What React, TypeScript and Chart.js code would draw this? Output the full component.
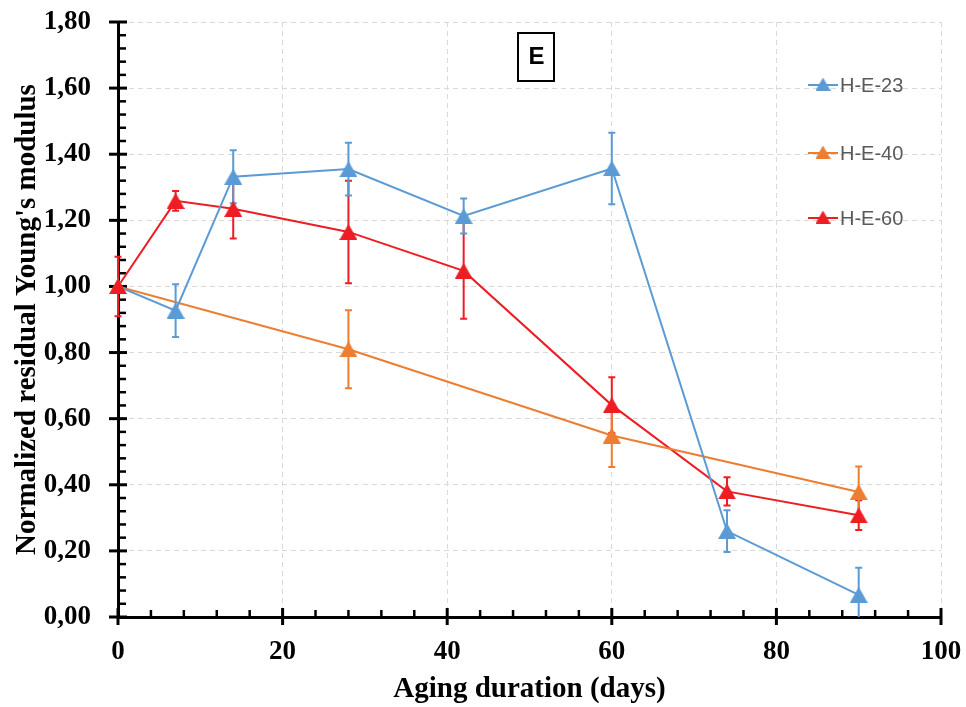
import React, { useEffect, useRef } from "react";
import { Chart, registerables } from "chart.js";

Chart.register(...registerables);

// ---- data ----
const seriesLabels = ["H-E-23", "H-E-40", "H-E-60"];
const seriesColors = ["#5B9BD5", "#ED7D31", "#EE1D23"];

const days23 = [0, 7, 14, 28, 42, 60, 74, 90];
const values23 = [1.0, 0.927, 1.332, 1.355, 1.213, 1.357, 0.26, 0.067];
const errors23 = [0, 0.08, 0.08, 0.08, 0.053, 0.108, 0.063, 0.082];

const days40 = [0, 28, 60, 90];
const values40 = [1.0, 0.81, 0.549, 0.378];
const errors40 = [0, 0.118, 0.095, 0.077];

const days60 = [0, 7, 14, 28, 42, 60, 74, 90];
const values60 = [1.0, 1.259, 1.235, 1.165, 1.047, 0.641, 0.38, 0.308];
const errors60 = [0.09, 0.03, 0.09, 0.155, 0.145, 0.084, 0.043, 0.045];

const xTitle = "Aging duration (days)";
const yTitle = "Normalized residual Young's modulus";
const panelLabel = "E";

const xMin = 0;
const xMax = 100;
const xStep = 20;
const yMin = 0;
const yMax = 1.8;
const yStep = 0.2;

const allDays = [days23, days40, days60];
const allValues = [values23, values40, values60];
const allErrors = [errors23, errors40, errors60];

function triangleImage(color: string, w: number, h: number) {
  const c = document.createElement("canvas");
  c.width = w;
  c.height = h;
  const ctx = c.getContext("2d")!;
  ctx.fillStyle = color;
  ctx.beginPath();
  ctx.moveTo(w / 2, 0);
  ctx.lineTo(w, h);
  ctx.lineTo(0, h);
  ctx.closePath();
  ctx.fill();
  return c;
}

function points(i: number) {
  return allDays[i].map((d, k) => ({ x: d, y: allValues[i][k] }));
}

export default function App() {
  const ref = useRef<HTMLCanvasElement>(null);

  useEffect(() => {
    document.body.style.margin = "0";
    const canvas = ref.current;
    if (!canvas) return;

    const markerImgs = seriesColors.map((c) => triangleImage(c, 18, 16));
    const legendImgs = seriesColors.map((c) => triangleImage(c, 15, 13));

    // marker datasets: index 0 = red, 1 = orange, 2 = blue (blue drawn first, red last)
    const markerOrder = [2, 1, 0];
    const markerDatasets = markerOrder.map((s) => ({
      label: seriesLabels[s] + " markers",
      data: points(s),
      showLine: false,
      borderColor: seriesColors[s],
      backgroundColor: seriesColors[s],
      pointStyle: markerImgs[s],
      pointRadius: 9,
      clip: false,
      order: 0,
      errorBarsBefore: s === 0,
    }));
    const lineDatasets = [0, 1, 2].map((s) => ({
      label: seriesLabels[s],
      data: points(s),
      showLine: true,
      borderColor: seriesColors[s],
      backgroundColor: seriesColors[s],
      borderWidth: 2,
      pointRadius: 0,
      tension: 0,
      order: 1,
    }));

    const errorBarPlugin = {
      id: "errorBars",
      beforeDatasetDraw(chart: any, args: any) {
        const ds = chart.data.datasets[args.index];
        if (!ds.errorBarsBefore) return;
        const ctx = chart.ctx;
        const xs = chart.scales.x;
        const ys = chart.scales.y;
        ctx.save();
        ctx.lineWidth = 2;
        for (const s of [2, 1, 0]) {
          ctx.strokeStyle = seriesColors[s];
          allDays[s].forEach((d, k) => {
            const e = allErrors[s][k];
            if (!e) return;
            const v = allValues[s][k];
            const px = xs.getPixelForValue(d);
            const hi = Math.min(v + e, yMax);
            const lo = Math.max(v - e, yMin);
            const pyHi = ys.getPixelForValue(hi);
            const pyLo = ys.getPixelForValue(lo);
            ctx.beginPath();
            ctx.moveTo(px, pyHi);
            ctx.lineTo(px, pyLo);
            if (v + e <= yMax) {
              ctx.moveTo(px - 3.5, pyHi);
              ctx.lineTo(px + 3.5, pyHi);
            }
            if (v - e >= yMin) {
              ctx.moveTo(px - 3.5, pyLo);
              ctx.lineTo(px + 3.5, pyLo);
            }
            ctx.stroke();
          });
        }
        ctx.restore();
      },
    };

    const axisTicksPlugin = {
      id: "axisTicks",
      beforeDatasetsDraw(chart: any) {
        const ctx = chart.ctx;
        const xs = chart.scales.x;
        const ys = chart.scales.y;
        const area = chart.chartArea;
        ctx.save();
        ctx.strokeStyle = "#000";
        ctx.lineCap = "butt";
        const yMinorCount = 5;
        const yN = Math.round((yMax - yMin) / yStep) * yMinorCount;
        for (let i = 0; i <= yN; i++) {
          const v = yMin + (i * yStep) / yMinorCount;
          const py = ys.getPixelForValue(v);
          ctx.beginPath();
          if (i % yMinorCount === 0) {
            ctx.lineWidth = 3;
            ctx.moveTo(area.left - 9, py);
            ctx.lineTo(area.left + 9, py);
          } else {
            ctx.lineWidth = 2.5;
            ctx.moveTo(area.left, py);
            ctx.lineTo(area.left + 8, py);
          }
          ctx.stroke();
        }
        const xMinorCount = 5;
        const xN = Math.round((xMax - xMin) / xStep) * xMinorCount;
        for (let i = 0; i <= xN; i++) {
          const v = xMin + (i * xStep) / xMinorCount;
          const px = xs.getPixelForValue(v);
          ctx.beginPath();
          if (i % xMinorCount === 0) {
            ctx.lineWidth = 3;
            ctx.moveTo(px, area.bottom - 9);
            ctx.lineTo(px, area.bottom + 8);
          } else {
            ctx.lineWidth = 2.5;
            ctx.moveTo(px, area.bottom - 7);
            ctx.lineTo(px, area.bottom);
          }
          ctx.stroke();
        }
        ctx.restore();
      },
    };

    const legendPlugin = {
      id: "customLegend",
      afterDraw(chart: any) {
        const ctx = chart.ctx;
        ctx.save();
        const ys = [85, 153, 218];
        seriesLabels.forEach((label, s) => {
          const y = ys[s];
          ctx.strokeStyle = seriesColors[s];
          ctx.lineWidth = 2;
          ctx.beginPath();
          ctx.moveTo(808, y);
          ctx.lineTo(838, y);
          ctx.stroke();
          const img = legendImgs[s];
          ctx.drawImage(img, 823 - img.width / 2, y - img.height / 2 - 1);
          ctx.fillStyle = "#595959";
          ctx.font = "20px 'Liberation Sans', Arial, sans-serif";
          ctx.textAlign = "left";
          ctx.textBaseline = "middle";
          ctx.fillText(label, 840, y + 1);
        });
        ctx.fillStyle = "#fff";
        ctx.fillRect(518, 32, 37, 50);
        ctx.strokeStyle = "#000";
        ctx.lineWidth = 2;
        ctx.strokeRect(518, 33, 36, 48);
        ctx.fillStyle = "#000";
        ctx.font = "bold 24px 'Liberation Sans', Arial, sans-serif";
        ctx.textAlign = "center";
        ctx.textBaseline = "middle";
        ctx.fillText(panelLabel, 536.5, 57);
        ctx.restore();
      },
    };

    const gridColor = "#D9D9D9";
    const tickFont = { family: "'Liberation Serif', 'Times New Roman', serif", size: 27, weight: "bold" as const };
    const titleFont = { family: "'Liberation Serif', 'Times New Roman', serif", size: 29, weight: "bold" as const };

    const chart = new Chart(canvas, {
      type: "line",
      data: { datasets: [...markerDatasets, ...lineDatasets] as any },
      options: {
        animation: false,
        responsive: false,
        devicePixelRatio: 1,
        layout: { padding: { left: 0, right: 25, top: 22, bottom: 0 } },
        plugins: {
          legend: { display: false },
          tooltip: { enabled: false },
        },
        scales: {
          x: {
            type: "linear",
            min: xMin,
            max: xMax,
            ticks: {
              stepSize: xStep,
              color: "#000",
              font: tickFont,
              padding: 19,
              maxRotation: 0,
            },
            grid: { color: gridColor, lineWidth: 1, drawTicks: false, tickLength: 0 },
            border: { display: true, color: "#000", width: 3, dash: [5, 4] },
            title: { display: true, text: xTitle, color: "#000", font: titleFont, padding: { top: 0, bottom: 0 } },
            afterFit: (scale: any) => {
              scale.height = 90;
              scale.paddingLeft = 0;
              scale.paddingRight = 0;
              scale.paddingTop = 0;
              scale.paddingBottom = 0;
            },
          },
          y: {
            type: "linear",
            min: yMin,
            max: yMax,
            ticks: {
              stepSize: yStep,
              color: "#000",
              font: tickFont,
              padding: 27,
              callback: (v: any) => Number(v).toFixed(2).replace(".", ","),
            },
            grid: { color: gridColor, lineWidth: 1, drawTicks: false, tickLength: 0 },
            border: { display: true, color: "#000", width: 3, dash: [5, 4] },
            title: { display: true, text: yTitle, color: "#000", font: titleFont, padding: { top: 10, bottom: 0 } },
            afterFit: (scale: any) => {
              scale.width = 118;
              scale.paddingLeft = 0;
              scale.paddingRight = 0;
              scale.paddingTop = 0;
              scale.paddingBottom = 0;
            },
          },
        },
      },
      plugins: [axisTicksPlugin, errorBarPlugin, legendPlugin],
    } as any);

    return () => {
      chart.destroy();
    };
  }, []);

  return (
    <div style={{ position: "absolute", left: 0, top: 0, width: 966, height: 707, background: "#fff" }}>
      <canvas ref={ref} width={966} height={707} style={{ display: "block", width: 966, height: 707 }} />
    </div>
  );
}
